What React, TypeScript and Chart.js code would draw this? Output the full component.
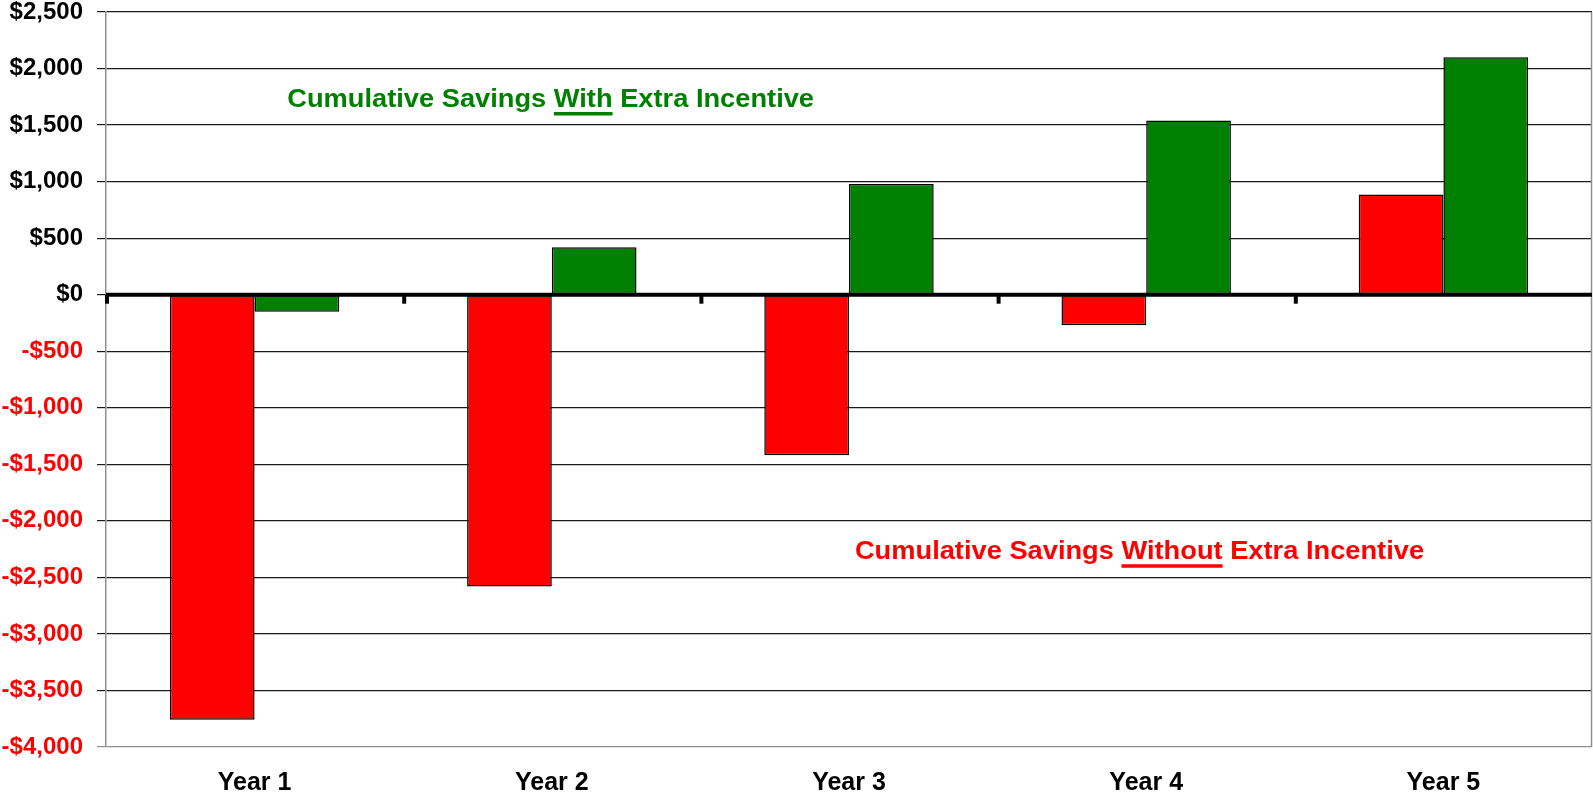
import React, { useEffect, useRef } from 'react';
import { Chart, registerables } from 'chart.js';

Chart.register(...registerables);

const categories = ['Year 1', 'Year 2', 'Year 3', 'Year 4', 'Year 5'];
const withoutIncentive = [-3760, -2580, -1420, -270, 885];
const withIncentive = [-150, 420, 980, 1540, 2100];
const yMin = -4000;
const yMax = 2500;
const yStep = 500;

const withLabel = ['Cumulative Savings ', 'With', ' Extra Incentive'];
const withoutLabel = ['Cumulative Savings ', 'Without', ' Extra Incentive'];
// anchors in data coordinates (category index, dollar value)
const withAnchor = { x: 0.11, y: 1725 };
const withoutAnchor = { x: 2.02, y: -2275 };

const RED = '#FF0000';
const GREEN = '#008000';
const FONT = '"Liberation Sans", Arial, sans-serif';

const fmt = (v: number) => (v < 0 ? '-' : '') + '$' + Math.abs(v).toLocaleString('en-US');

const overlayPlugin = {
  id: 'overlay',
  afterDatasetsDraw(chart: any) {
    const { ctx, chartArea, scales } = chart;
    const xs = scales.x;
    const ys = scales.y;
    const y0 = ys.getPixelForValue(0);
    ctx.save();
    // right border
    ctx.strokeStyle = '#909090';
    ctx.lineWidth = 1.5;
    ctx.beginPath();
    ctx.moveTo(chartArea.right - 0.5, chartArea.top);
    ctx.lineTo(chartArea.right - 0.5, chartArea.bottom);
    ctx.stroke();
    // zero axis line
    ctx.strokeStyle = '#000';
    ctx.lineWidth = 4;
    ctx.beginPath();
    ctx.moveTo(chartArea.left, y0);
    ctx.lineTo(chartArea.right, y0);
    ctx.stroke();
    // tick marks between categories
    ctx.lineWidth = 4;
    for (let i = 0; i < categories.length; i++) {
      const px = xs.getPixelForValue(i - 0.5);
      ctx.beginPath();
      ctx.moveTo(px + 1, y0);
      ctx.lineTo(px + 1, y0 + 9);
      ctx.stroke();
    }
    // annotations
    const stretch = 1.09;
    const drawLabel = (parts: string[], anchor: { x: number; y: number }, color: string) => {
      const px = xs.getPixelForValue(anchor.x);
      const py = ys.getPixelForValue(anchor.y);
      ctx.save();
      ctx.translate(px, py);
      ctx.scale(stretch, 1);
      ctx.font = `bold 25px ${FONT}`;
      ctx.fillStyle = color;
      ctx.strokeStyle = color;
      ctx.textBaseline = 'middle';
      ctx.textAlign = 'left';
      ctx.fillText(parts.join(''), 0, 0);
      const w0 = ctx.measureText(parts[0]).width;
      const w1 = ctx.measureText(parts[1]).width;
      ctx.lineWidth = 3.5;
      ctx.beginPath();
      ctx.moveTo(w0, 14);
      ctx.lineTo(w0 + w1, 14);
      ctx.stroke();
      ctx.restore();
    };
    drawLabel(withLabel, withAnchor, GREEN);
    drawLabel(withoutLabel, withoutAnchor, RED);
    ctx.restore();
  },
};

export default function App() {
  const ref = useRef<HTMLCanvasElement | null>(null);
  useEffect(() => {
    document.body.style.margin = '0';
    const canvas = ref.current;
    if (!canvas) return;
    const chart = new Chart(canvas, {
      type: 'bar',
      data: {
        labels: categories,
        datasets: [
          {
            label: 'Without Extra Incentive',
            data: withoutIncentive,
            backgroundColor: RED,
            borderColor: '#000',
            borderWidth: 1.5,
            borderSkipped: false,
          },
          {
            label: 'With Extra Incentive',
            data: withIncentive,
            backgroundColor: GREEN,
            borderColor: '#000',
            borderWidth: 1.5,
            borderSkipped: false,
          },
        ],
      },
      options: {
        responsive: false,
        animation: false,
        categoryPercentage: 0.57,
        barPercentage: 1.0,
        layout: { padding: { top: 12, right: 1, left: 0, bottom: 0 } },
        plugins: {
          legend: { display: false },
          tooltip: { enabled: false },
        },
        scales: {
          x: {
            grid: { display: false, drawTicks: false },
            border: { display: false },
            ticks: {
              padding: 21,
              color: '#000',
              font: { family: FONT, size: 25, weight: 'bold' },
            },
            afterFit: (s: any) => {
              s.height = 52;
            },
          },
          y: {
            min: yMin,
            max: yMax,
            border: { display: true, color: '#909090', width: 1.5 },
            grid: {
              tickLength: 9,
              color: (c: any) => (c.tick && c.tick.value === yMin ? '#909090' : '#1a1a1a'),
              lineWidth: 1.2,
            },
            ticks: {
              stepSize: yStep,
              padding: 14,
              color: (c: any) => (c.tick && c.tick.value < 0 ? RED : '#000'),
              font: { family: FONT, size: 24, weight: 'bold' },
              callback: (v: any) => fmt(Number(v)),
            },
            afterFit: (s: any) => {
              s.width = 106;
              s.paddingTop = 0;
              s.paddingBottom = 0;
            },
          },
        },
      },
      plugins: [overlayPlugin],
    });
    return () => chart.destroy();
  }, []);
  return <canvas ref={ref} width={1593} height={799} style={{ display: 'block' }} />;
}
